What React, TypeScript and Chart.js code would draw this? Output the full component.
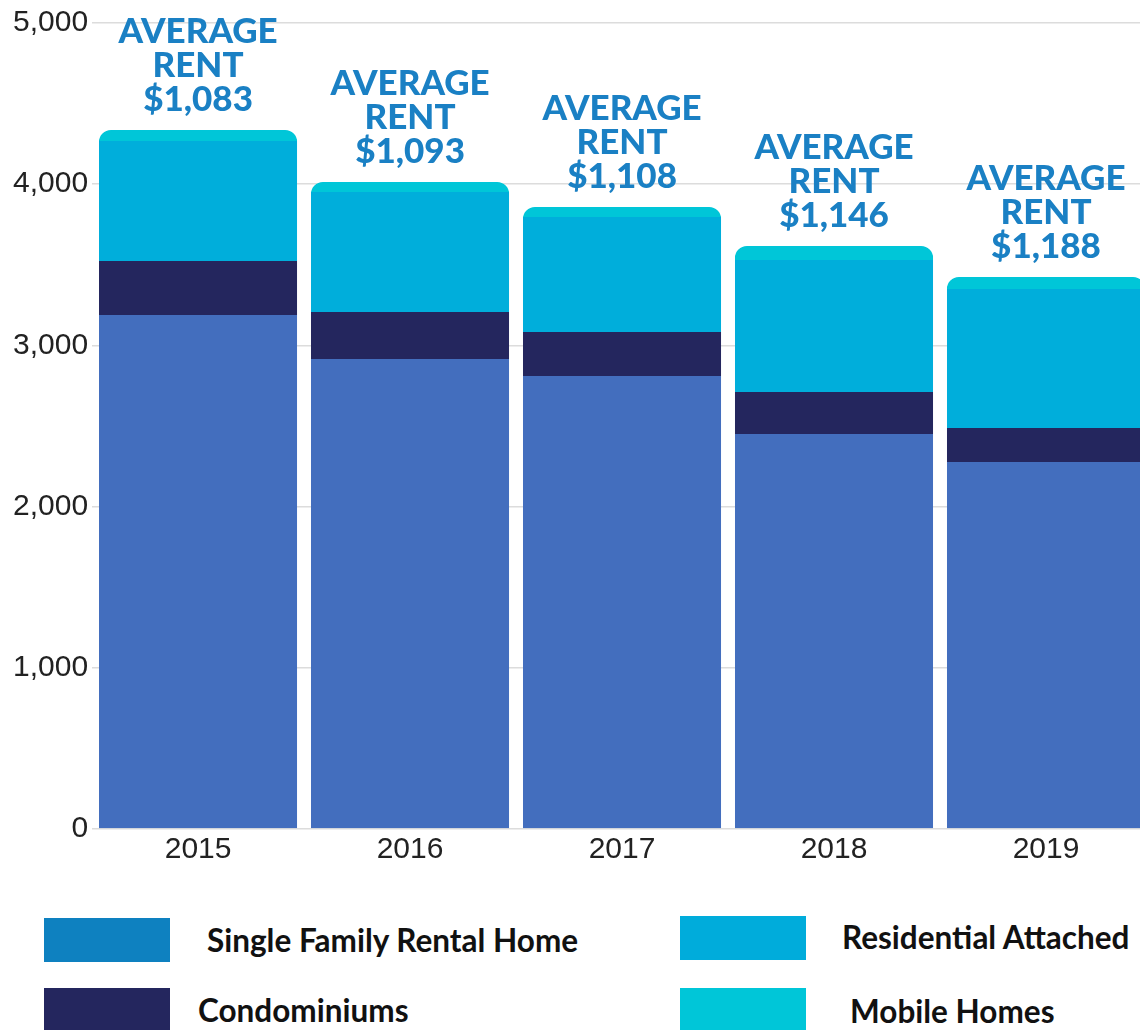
import React, { useEffect, useRef } from 'react';
import { Chart, registerables } from 'chart.js';

Chart.register(...registerables);

const years = ['2015', '2016', '2017', '2018', '2019'];
const singleFamily = [3189, 2916, 2810, 2450, 2277];
const condominiums = [335, 291, 273, 261, 211];
const residentialAttached = [744, 745, 714, 819, 862];
const mobileHomes = [68, 62, 62, 87, 74];
const averageRent = ['$1,083', '$1,093', '$1,108', '$1,146', '$1,188'];
const yTicks = [0, 1000, 2000, 3000, 4000, 5000];
const seriesNames = ['Single Family Rental Home', 'Condominiums', 'Residential Attached', 'Mobile Homes'];

const barColors = ['#436EBE', '#24265E', '#00AEDB', '#00C6D8'];
const legendColors = ['#0E81C0', '#24265E', '#00ACDB', '#00C6D8'];

const roundClip = {
  id: 'roundClip',
  beforeDatasetsDraw(chart: any) {
    const ctx = chart.ctx;
    const n = chart.data.datasets.length;
    const first = chart.getDatasetMeta(0);
    const last = chart.getDatasetMeta(n - 1);
    ctx.save();
    ctx.beginPath();
    last.data.forEach((bar: any, i: number) => {
      const p = bar.getProps(['x', 'y', 'width'], true);
      const base = first.data[i].getProps(['base'], true).base;
      ctx.roundRect(p.x - p.width / 2, p.y, p.width, base - p.y, [12, 12, 0, 0]);
    });
    ctx.clip();
  },
  afterDatasetsDraw(chart: any) {
    chart.ctx.restore();
  },
};

const rentLabels = {
  id: 'rentLabels',
  afterDraw(chart: any) {
    const ctx = chart.ctx;
    const last = chart.getDatasetMeta(chart.data.datasets.length - 1);
    ctx.save();
    ctx.font = '900 35px Lato';
    ctx.fillStyle = '#1A80C4';
    ctx.textAlign = 'center';
    ctx.textBaseline = 'middle';
    last.data.forEach((bar: any, i: number) => {
      const p = bar.getProps(['x', 'y'], true);
      ctx.fillText('AVERAGE', p.x, p.y - 98);
      ctx.fillText('RENT', p.x, p.y - 64);
      ctx.fillText(averageRent[i], p.x, p.y - 30);
    });
    ctx.restore();
  },
};

export default function App() {
  const ref = useRef<HTMLCanvasElement | null>(null);

  useEffect(() => {
    if (!ref.current) return;
    const series = [singleFamily, condominiums, residentialAttached, mobileHomes];
    const tickFont = { family: '"Liberation Sans", Arial, sans-serif', size: 30 };
    const chart = new Chart(ref.current, {
      type: 'bar',
      data: {
        labels: years,
        datasets: series.map((d, k) => ({
          label: seriesNames[k],
          data: d,
          backgroundColor: barColors[k],
          borderWidth: 0,
          barPercentage: 0.935,
          categoryPercentage: 1,
        })),
      },
      options: {
        animation: false,
        responsive: false,
        maintainAspectRatio: false,
        layout: { padding: { left: 9, right: 8, top: 23, bottom: 9 } },
        plugins: { legend: { display: false }, tooltip: { enabled: false } },
        scales: {
          x: {
            stacked: true,
            grid: { display: false, drawTicks: false },
            border: { display: false },
            ticks: { color: '#222', font: tickFont, padding: 3 },
          },
          y: {
            stacked: true,
            min: 0,
            max: 5000,
            afterBuildTicks: (scale: any) => {
              scale.ticks = yTicks.map((v) => ({ value: v }));
            },
            grid: { color: '#dcdcdc', lineWidth: 1.5, drawTicks: false },
            border: { display: false },
            ticks: {
              color: '#222',
              font: tickFont,
              padding: 4,
              callback: (v: any) => Number(v).toLocaleString('en-US'),
            },
          },
        },
      },
      plugins: [roundClip, rentLabels],
    } as any);
    return () => chart.destroy();
  }, []);

  const legendPos = [
    { box: [44, 918], text: [207, 940] },
    { box: [44, 988], text: [198, 1010] },
    { box: [680, 916], text: [842, 937] },
    { box: [680, 988], text: [850, 1011] },
  ];

  return (
    <div style={{ position: 'absolute', left: 0, top: 0, width: 1140, height: 1030, overflow: 'hidden', background: '#fff' }}>
      <canvas ref={ref} width={1160} height={880} style={{ display: 'block', position: 'absolute', left: 0, top: 0 }} />
      {seriesNames.map((name, k) => (
        <React.Fragment key={name}>
          <div
            style={{
              position: 'absolute',
              left: legendPos[k].box[0],
              top: legendPos[k].box[1],
              width: 126,
              height: 44,
              background: legendColors[k],
            }}
          />
          <div
            style={{
              position: 'absolute',
              left: legendPos[k].text[0],
              top: legendPos[k].text[1] - 20,
              height: 40,
              lineHeight: '40px',
              fontFamily: 'Lato, sans-serif',
              fontWeight: 700,
              fontSize: 31.5,
              color: '#111',
              whiteSpace: 'nowrap',
            }}
          >
            {name}
          </div>
        </React.Fragment>
      ))}
    </div>
  );
}
